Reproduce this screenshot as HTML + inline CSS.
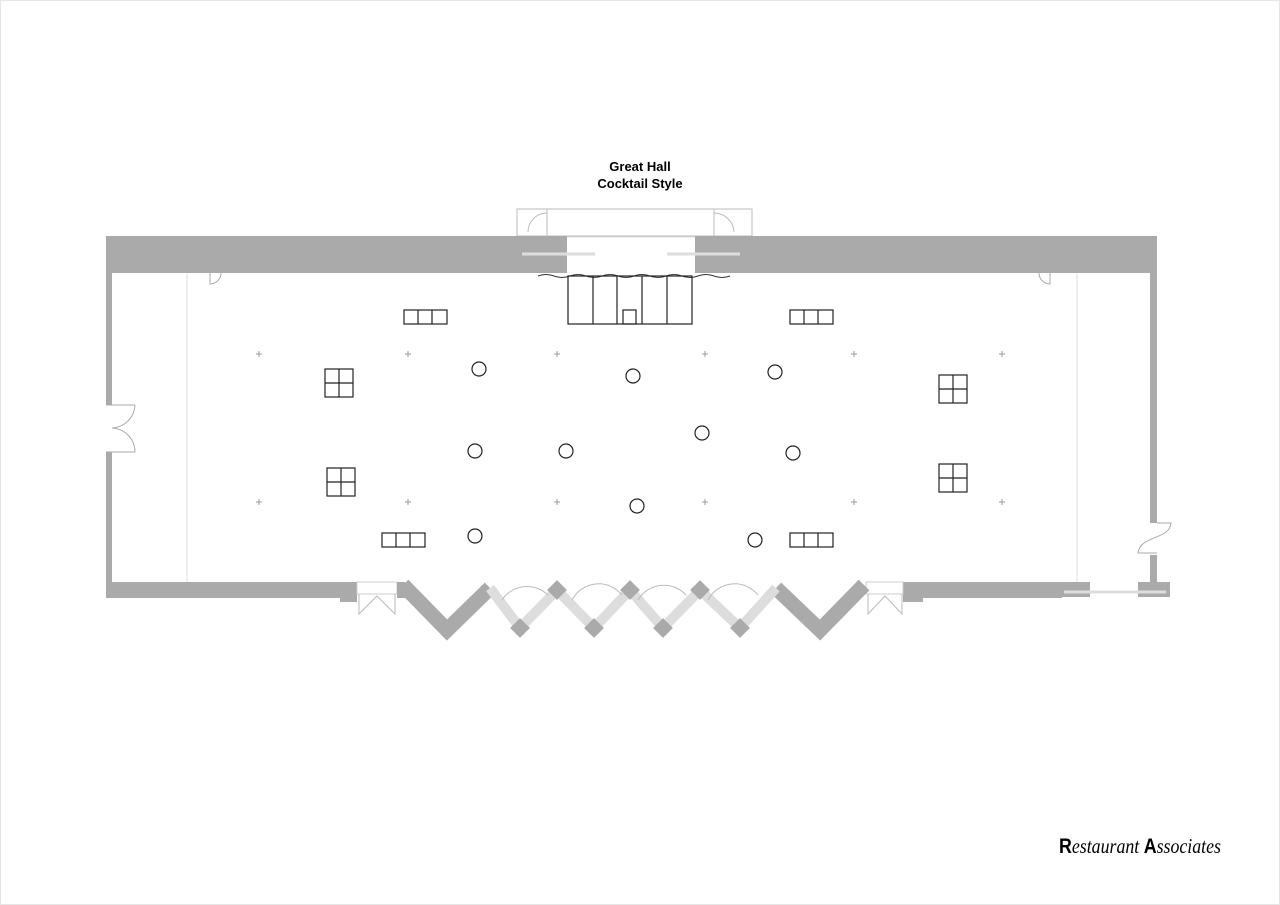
<!DOCTYPE html>
<html><head><meta charset="utf-8"><style>
html,body{margin:0;padding:0;background:#fff;}
svg{display:block;}
</style></head><body>
<svg width="1280" height="905" viewBox="0 0 1280 905" xmlns="http://www.w3.org/2000/svg">
<rect x="0.5" y="0.5" width="1279" height="904" fill="none" stroke="#e6e6e6"/>
<text x="640" y="171" text-anchor="middle" font-family="Liberation Sans, sans-serif" font-weight="bold" font-size="13">Great Hall</text>
<text x="640" y="188" text-anchor="middle" font-family="Liberation Sans, sans-serif" font-weight="bold" font-size="13">Cocktail Style</text>
<!-- annex -->
<rect x="517" y="209" width="235" height="27" fill="none" stroke="#bbb" stroke-width="1"/>
<line x1="547" y1="209" x2="547" y2="236" stroke="#bbb"/>
<line x1="714" y1="209" x2="714" y2="236" stroke="#bbb"/>
<path d="M528 232 A19 19 0 0 1 547 213" fill="none" stroke="#bbb"/>
<path d="M714 213 A20 20 0 0 1 734 232" fill="none" stroke="#bbb"/>
<!-- top wall -->
<rect x="106" y="236" width="461" height="37" fill="#aaa"/>
<rect x="695" y="236" width="462" height="37" fill="#aaa"/>
<line x1="522" y1="254" x2="595" y2="254" stroke="#ddd" stroke-width="3"/>
<line x1="667" y1="254" x2="740" y2="254" stroke="#ddd" stroke-width="3"/>
<line x1="567" y1="237" x2="695" y2="237" stroke="#ddd"/>
<!-- left wall -->
<rect x="106" y="273" width="6" height="132" fill="#aaa"/>
<rect x="106" y="452" width="6" height="146" fill="#aaa"/>
<path d="M106 405 H135 M106 452 H135 M135 405 A24 24 0 0 1 112 428 M135 452 A24 24 0 0 0 112 428" fill="none" stroke="#aaa"/>
<!-- right wall -->
<rect x="1150" y="273" width="7" height="250" fill="#aaa"/>
<rect x="1150" y="555" width="7" height="35" fill="#aaa"/>
<path d="M1157 523 H1171 C1170 540 1140 535 1138 553 H1157" fill="none" stroke="#aaa"/>
<!-- bottom wall -->
<rect x="106" y="582" width="251" height="16" fill="#aaa"/>
<rect x="340" y="582" width="17" height="20" fill="#aaa"/>
<rect x="357" y="582" width="40" height="12" fill="none" stroke="#ccc"/>
<path d="M359 594 V614 L377 596 L395 614 V594" fill="none" stroke="#bbb"/>
<rect x="397" y="582" width="8" height="16" fill="#aaa"/>
<rect x="903" y="582" width="159" height="16" fill="#aaa"/>
<rect x="903" y="598" width="20" height="4" fill="#aaa"/>
<rect x="866" y="582" width="37" height="12" fill="none" stroke="#ccc"/>
<path d="M868 594 V614 L885 596 L902 614 V594" fill="none" stroke="#bbb"/>
<rect x="1062" y="582" width="28" height="15" fill="#aaa"/>
<rect x="1138" y="582" width="32" height="15" fill="#aaa"/>
<line x1="1064" y1="592" x2="1166" y2="592" stroke="#ddd" stroke-width="3"/>
<!-- zigzag -->
<polyline points="403,585 447,630 490,588" fill="none" stroke="#aaa" stroke-width="15" stroke-linejoin="miter"/>
<polyline points="776,588 820,630 864,585" fill="none" stroke="#aaa" stroke-width="15" stroke-linejoin="miter"/>
<polyline points="490,588 520,628 557,590 594,628 630,590 663,628 700,590 740,628 776,588" fill="none" stroke="#ddd" stroke-width="10"/>
<g fill="#aaa">
<rect x="550" y="583" width="14" height="14" transform="rotate(45 557 590)"/>
<rect x="623" y="583" width="14" height="14" transform="rotate(45 630 590)"/>
<rect x="693" y="583" width="14" height="14" transform="rotate(45 700 590)"/>
<rect x="513" y="621" width="14" height="14" transform="rotate(45 520 628)"/>
<rect x="587" y="621" width="14" height="14" transform="rotate(45 594 628)"/>
<rect x="656" y="621" width="14" height="14" transform="rotate(45 663 628)"/>
<rect x="733" y="621" width="14" height="14" transform="rotate(45 740 628)"/>
</g>
<g fill="none" stroke="#bbb">
<path d="M502 600 A30 30 0 0 1 548 595"/>
<path d="M572 600 A30 30 0 0 1 622 595"/>
<path d="M638 600 A30 30 0 0 1 686 595"/>
<path d="M708 600 A30 30 0 0 1 758 595"/>
</g>
<!-- inner lines -->
<line x1="187" y1="273" x2="187" y2="582" stroke="#ddd"/>
<line x1="1077" y1="273" x2="1077" y2="582" stroke="#ddd"/>
<path d="M210 273 V284 A11 11 0 0 0 221 273" fill="none" stroke="#aaa"/>
<path d="M1050 273 V284 A11 11 0 0 1 1039 273" fill="none" stroke="#aaa"/>
<!-- stage -->
<path d="M538 276 q8 -3 16 0 t16 0 t16 0 t16 0 t16 0 t16 0 t16 0 t16 0 t16 0 t16 0 t16 0 t16 0" fill="none" stroke="#333" stroke-width="1"/>
<g fill="none" stroke="#222" stroke-width="1.2">
<rect x="568" y="276" width="124" height="48"/>
<line x1="593" y1="276" x2="593" y2="324"/>
<line x1="617" y1="276" x2="617" y2="324"/>
<line x1="642" y1="276" x2="642" y2="324"/>
<line x1="667" y1="276" x2="667" y2="324"/>
<rect x="623" y="310" width="13" height="14"/>
<!-- tables -->
<rect x="404" y="310" width="43" height="14"/><line x1="418" y1="310" x2="418" y2="324"/><line x1="432" y1="310" x2="432" y2="324"/>
<rect x="790" y="310" width="43" height="14"/><line x1="804" y1="310" x2="804" y2="324"/><line x1="818" y1="310" x2="818" y2="324"/>
<rect x="382" y="533" width="43" height="14"/><line x1="396" y1="533" x2="396" y2="547"/><line x1="410" y1="533" x2="410" y2="547"/>
<rect x="790" y="533" width="43" height="14"/><line x1="804" y1="533" x2="804" y2="547"/><line x1="818" y1="533" x2="818" y2="547"/>
<rect x="325" y="369" width="28" height="28"/><line x1="339" y1="369" x2="339" y2="397"/><line x1="325" y1="383" x2="353" y2="383"/>
<rect x="939" y="375" width="28" height="28"/><line x1="953" y1="375" x2="953" y2="403"/><line x1="939" y1="389" x2="967" y2="389"/>
<rect x="327" y="468" width="28" height="28"/><line x1="341" y1="468" x2="341" y2="496"/><line x1="327" y1="482" x2="355" y2="482"/>
<rect x="939" y="464" width="28" height="28"/><line x1="953" y1="464" x2="953" y2="492"/><line x1="939" y1="478" x2="967" y2="478"/>
<circle cx="479" cy="369" r="7"/><circle cx="633" cy="376" r="7"/><circle cx="775" cy="372" r="7"/>
<circle cx="475" cy="451" r="7"/><circle cx="566" cy="451" r="7"/><circle cx="702" cy="433" r="7"/>
<circle cx="793" cy="453" r="7"/><circle cx="637" cy="506" r="7"/><circle cx="475" cy="536" r="7"/>
<circle cx="755" cy="540" r="7"/>
</g>
<g stroke="#999" stroke-width="1">
<path d="M256 354h6M259 351v6M405 354h6M408 351v6M554 354h6M557 351v6M702 354h6M705 351v6M851 354h6M854 351v6M999 354h6M1002 351v6"/>
<path d="M256 502h6M259 499v6M405 502h6M408 499v6M554 502h6M557 499v6M702 502h6M705 499v6M851 502h6M854 499v6M999 502h6M1002 499v6"/>
</g>
<text x="1059" y="853" font-family="Liberation Serif, serif" font-style="italic" font-size="21" transform="scale(0.85 1)" transform-origin="1059 853"><tspan font-weight="bold" font-style="normal" font-family="Liberation Sans, sans-serif">R</tspan>estaurant <tspan font-weight="bold" font-style="normal" font-family="Liberation Sans, sans-serif">A</tspan>ssociates</text>
</svg>
</body></html>
